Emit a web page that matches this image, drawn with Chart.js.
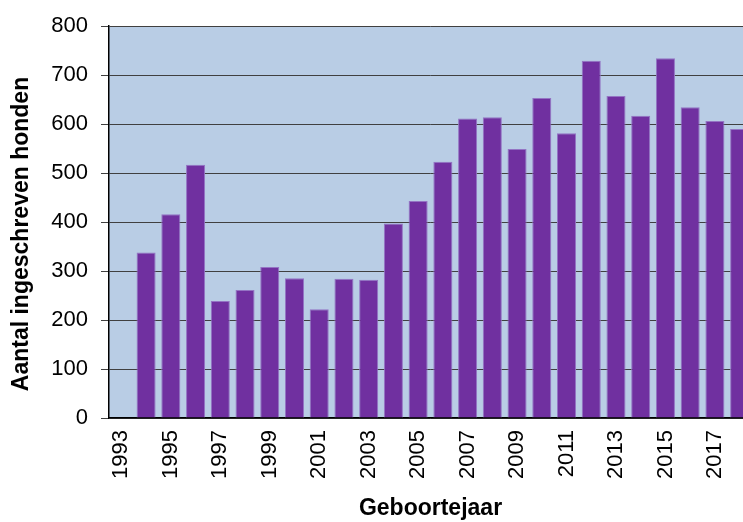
<!DOCTYPE html>
<html>
<head>
<meta charset="utf-8">
<script src="https://cdn.jsdelivr.net/npm/chart.js@4.4.1/dist/chart.umd.min.js"></script>
<style>
  html, body { margin: 0; padding: 0; overflow: hidden; background: #fff; }
  #wrap { width: 760px; height: 522px; }
</style>
</head>
<body>
<div id="wrap"><canvas id="c" width="760" height="522"></canvas></div>
<script>
var years = ["1993", "1994", "1995", "1996", "1997", "1998", "1999", "2000", "2001",
  "2002", "2003", "2004", "2005", "2006", "2007", "2008", "2009", "2010", "2011",
  "2012", "2013", "2014", "2015", "2016", "2017", "2018"];
var dogs = [null, 338, 416, 517, 239, 261, 308, 285, 222, 284, 282, 397, 443,
  523, 611, 614, 549, 653, 581, 729, 657, 617, 734, 634, 606, 590];
var yTicks = [0, 100, 200, 300, 400, 500, 600, 700, 800];
var yTitle = 'Aantal ingeschreven honden';

var font = "'Liberation Sans', Arial, sans-serif";

// light blue plot background + y title (sits a bit below the plot centre in the original)
var plotBg = {
  id: 'plotBg',
  beforeDraw: function(chart) {
    var a = chart.chartArea, ctx = chart.ctx;
    ctx.save();
    ctx.fillStyle = '#B9CDE5';
    ctx.fillRect(a.left, a.top, a.right - a.left, a.bottom - a.top);
    ctx.restore();
  },
  afterDraw: function(chart) {
    var ctx = chart.ctx;
    ctx.save();
    ctx.translate(22, 234);
    ctx.rotate(-Math.PI / 2);
    ctx.fillStyle = '#000';
    ctx.font = 'bold 23px ' + font;
    ctx.textAlign = 'center';
    ctx.textBaseline = 'middle';
    ctx.fillText(yTitle, 0, 0);
    ctx.restore();
  }
};

var ctx = document.getElementById("c").getContext("2d");
new Chart(ctx, {
  type: 'bar',
  data: {
    labels: years,
    datasets: [{
      data: dogs,
      backgroundColor: '#7030A0',
      borderColor: '#9474C4',
      borderWidth: 1,
      categoryPercentage: 1,
      barPercentage: 0.77
    }]
  },
  options: {
    responsive: false,
    animation: false,
    layout: { padding: { left: 0, right: 8, top: 26, bottom: 0 } },
    plugins: { legend: { display: false }, tooltip: { enabled: false } },
    scales: {
      x: {
        grid: { display: false, drawTicks: false },
        border: { color: '#000', width: 1.5 },
        ticks: {
          autoSkip: false,
          minRotation: 90,
          maxRotation: 90,
          padding: 12,
          color: '#000',
          font: { family: font, size: 22 },
          callback: function(v, i) { return i % 2 === 0 ? this.getLabelForValue(v) : ''; }
        },
        title: {
          display: true,
          text: 'Geboortejaar',
          color: '#000',
          font: { family: font, size: 23, weight: 'bold' },
          padding: { top: 0, bottom: 0 }
        },
        afterFit: function(s) {
          s.height = 104;
          s.paddingLeft = 0;
          s.paddingRight = 0;
        }
      },
      y: {
        min: 0,
        max: 800,
        afterBuildTicks: function(s) { s.ticks = yTicks.map(function(v) { return { value: v }; }); },
        grid: { color: '#404040', lineWidth: 1, tickLength: 8 },
        border: { color: '#000', width: 1.5 },
        ticks: {
          padding: 13,
          color: '#000',
          font: { family: font, size: 22 }
        },
        title: { display: false },
        afterFit: function(s) {
          s.width = 109;
          s.paddingTop = 0;
          s.paddingBottom = 0;
        }
      }
    }
  },
  plugins: [plotBg]
});
</script>
</body>
</html>
